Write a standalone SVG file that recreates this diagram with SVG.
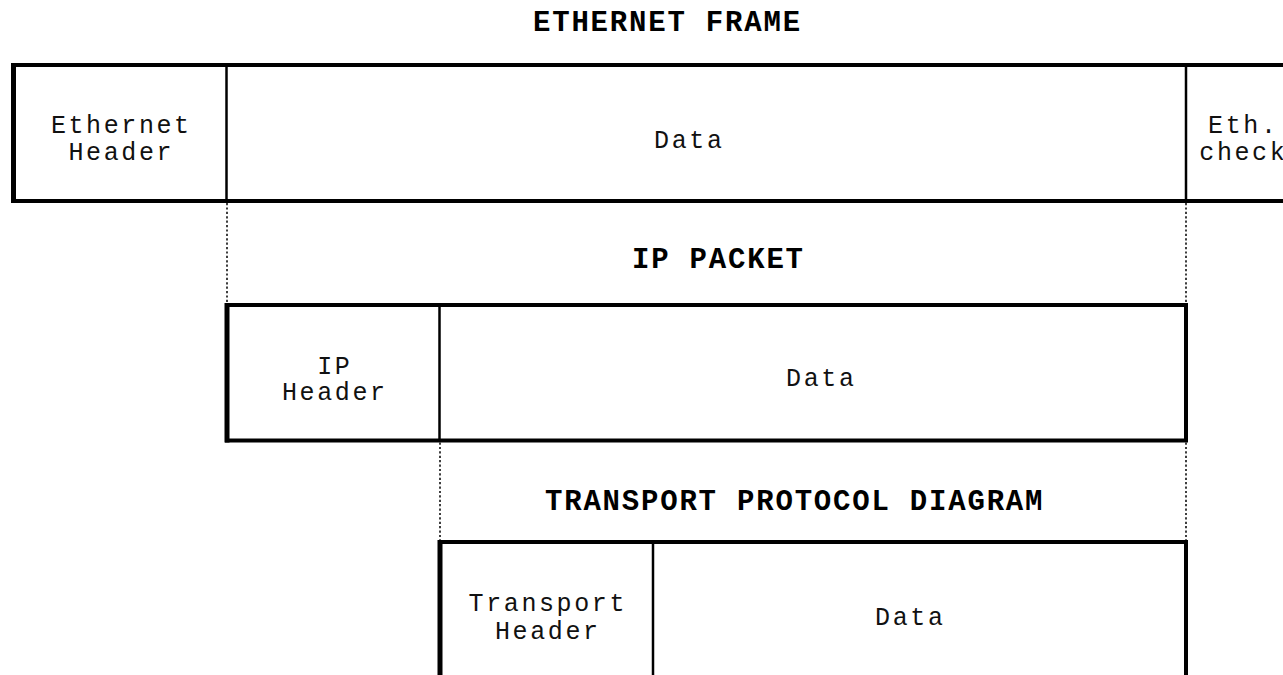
<svg xmlns="http://www.w3.org/2000/svg" width="1283" height="675" viewBox="0 0 1283 675">
<style>
.title{font-family:"Liberation Mono","Courier New",monospace;font-weight:bold;font-size:29px;letter-spacing:1.8px;fill:#000}
.lbl{font-family:"Liberation Mono","Courier New",monospace;font-size:25px;letter-spacing:2.6px;fill:#111;text-anchor:middle}
.box{stroke:#000;stroke-width:4;fill:none}
.div{stroke:#000;stroke-width:2.5;fill:none}
.dot{stroke:#000;stroke-width:1.5;stroke-dasharray:2.2 2.2;fill:none}
</style>
<rect width="1283" height="675" fill="#fff"/>
<g id="titles">
<text class="title" x="533" y="31">ETHERNET FRAME</text>
<text class="title" x="632" y="268">IP PACKET</text>
<text class="title" x="545" y="510">TRANSPORT PROTOCOL DIAGRAM</text>
</g>
<g id="ethernet-frame">
<path class="box" d="M1295 65 H13.5 V201 H1295"/>
<line x1="13.5" y1="63" x2="13.5" y2="203" stroke="#000" stroke-width="5"/>
<line class="div" x1="226.5" y1="65" x2="226.5" y2="201"/>
<line class="div" x1="1186" y1="65" x2="1186" y2="201"/>
<text class="lbl" x="121.3" y="133">Ethernet</text>
<text class="lbl" x="121.3" y="159.5">Header</text>
<text class="lbl" x="689.3" y="148">Data</text>
<text class="lbl" x="1243.3" y="133">Eth.</text>
<text class="lbl" x="1243.3" y="160">check</text>
</g>
<g id="ip-packet">
<rect class="box" x="227" y="305" width="959" height="135.5"/>
<line x1="227" y1="303" x2="227" y2="442.5" stroke="#000" stroke-width="5"/>
<line class="div" x1="439.5" y1="305" x2="439.5" y2="440.5"/>
<text class="lbl" x="334.8" y="373.5">IP</text>
<text class="lbl" x="334.8" y="400">Header</text>
<text class="lbl" x="821.3" y="386">Data</text>
</g>
<g id="transport">
<path class="box" d="M440 690 V542 H1186 V690"/>
<line x1="440" y1="540" x2="440" y2="690" stroke="#000" stroke-width="5"/>
<line class="div" x1="653" y1="542" x2="653" y2="690"/>
<text class="lbl" x="547.8" y="611">Transport</text>
<text class="lbl" x="547.8" y="638.5">Header</text>
<text class="lbl" x="910.3" y="625">Data</text>
</g>
<g id="connectors">
<line class="dot" x1="227" y1="203" x2="227" y2="303"/>
<line class="dot" x1="1186" y1="203" x2="1186" y2="303"/>
<line class="dot" x1="440" y1="442.5" x2="440" y2="540"/>
<line class="dot" x1="1186" y1="442.5" x2="1186" y2="540"/>
</g>
</svg>
